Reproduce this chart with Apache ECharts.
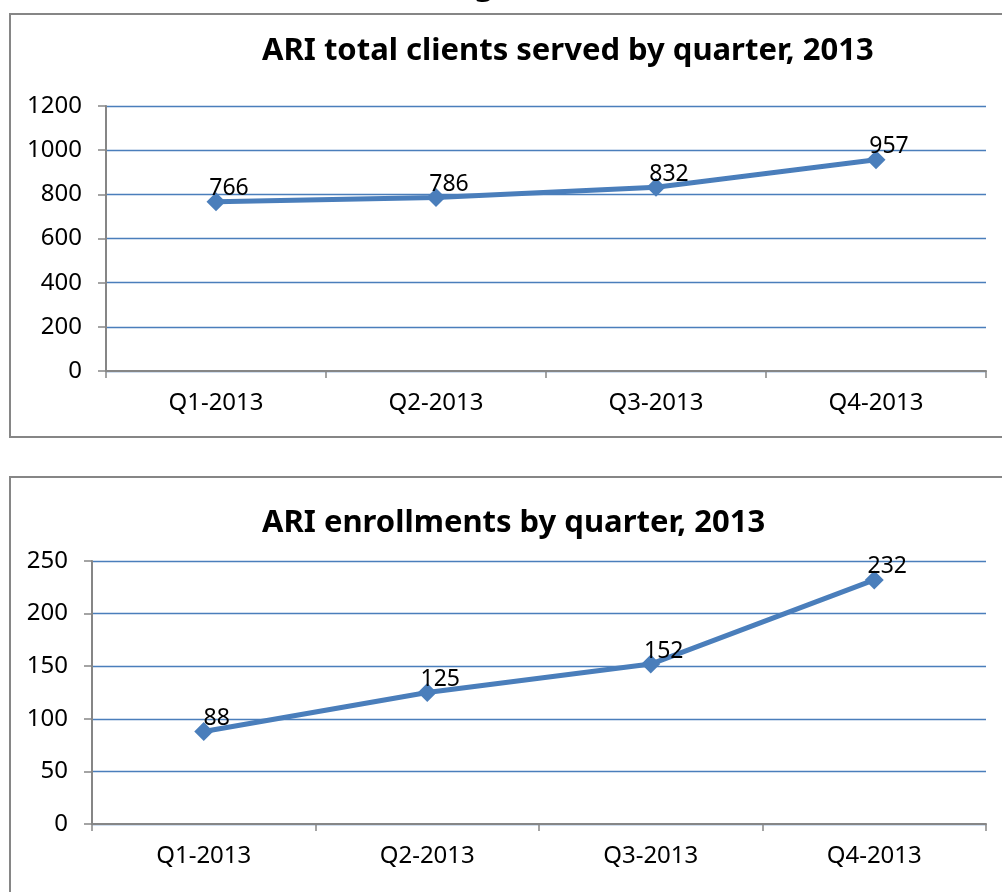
<!DOCTYPE html>
<html>
<head>
<meta charset="utf-8">
<script src="https://cdn.jsdelivr.net/npm/echarts@6/dist/echarts.min.js"></script>
<style>
html,body{margin:0;padding:0;background:#fff;}
#c{width:1002px;height:892px;}
</style>
</head>
<body>
<div id="c"></div>
<script>
const categories = ['Q1-2013', 'Q2-2013', 'Q3-2013', 'Q4-2013'];
const clientsServed = [766, 786, 832, 957];
const enrollments = [88, 125, 152, 232];
const clientsTicks = { min: 0, max: 1200, interval: 200 };
const enrollTicks = { min: 0, max: 250, interval: 50 };
const titleTop = 'ARI total clients served by quarter, 2013';
const titleBottom = 'ARI enrollments by quarter, 2013';

const FONT = '"Noto Sans", "Open Sans", sans-serif';
const BLUE = '#4A7EBB';
const GRAY = '#868686';

const chart = echarts.init(document.getElementById('c'), null, { renderer: 'canvas' });

function xAxisCfg(gridIndex) {
  return {
    type: 'category', gridIndex, data: categories, boundaryGap: true,
    axisLine: { lineStyle: { color: GRAY, width: 2 } },
    axisTick: { show: true, length: 7, lineStyle: { color: GRAY, width: 1.5 } },
    axisLabel: { color: '#000', fontFamily: FONT, fontSize: 24, margin: 20 },
    splitLine: { show: false }
  };
}
function yAxisCfg(gridIndex, t, margin) {
  return {
    type: 'value', gridIndex, min: t.min, max: t.max, interval: t.interval,
    axisLine: { show: true, lineStyle: { color: GRAY, width: 2 } },
    axisTick: { show: true, length: 8, lineStyle: { color: GRAY, width: 1.5 } },
    axisLabel: { color: '#000', fontFamily: FONT, fontSize: 24, margin: margin,
                 formatter: function (v) { return String(v); } },
    splitLine: { show: true, lineStyle: { color: BLUE, width: 1.4 } }
  };
}
function seriesCfg(idx, data) {
  return {
    type: 'line', xAxisIndex: idx, yAxisIndex: idx, data: data,
    symbol: 'diamond', symbolSize: 19,
    lineStyle: { color: BLUE, width: 5 },
    itemStyle: { color: BLUE },
    label: {
      show: true, position: 'top', distance: 0, offset: [13, 8],
      color: '#000', fontFamily: FONT, fontSize: 23
    },
    animation: false,
    z: 5
  };
}

chart.setOption({
  animation: false,
  backgroundColor: '#fff',
  title: [
    { text: titleTop, left: 257, top: 31,
      textStyle: { fontFamily: FONT, fontWeight: 'bold', fontSize: 31, color: '#000' } },
    { text: titleBottom, left: 257, top: 503,
      textStyle: { fontFamily: FONT, fontWeight: 'bold', fontSize: 31, color: '#000' } }
  ],
  graphic: [
    { type: 'text', left: 448, top: -29, z: 0,
      style: { text: 'Figure 3', fontFamily: FONT, fontWeight: 'bold', fontSize: 31, fill: '#000' } },
    { type: 'rect', shape: { x: 10, y: 14, width: 1010, height: 423 },
      style: { fill: '#fff', stroke: GRAY, lineWidth: 2 }, z: -1 },
    { type: 'rect', shape: { x: 10, y: 477, width: 1010, height: 440 },
      style: { fill: '#fff', stroke: GRAY, lineWidth: 2 }, z: -1 }
  ],
  grid: [
    { left: 106, right: 16, top: 106, height: 265, containLabel: false },
    { left: 92, right: 16, top: 561, height: 263, containLabel: false }
  ],
  xAxis: [xAxisCfg(0), xAxisCfg(1)],
  yAxis: [yAxisCfg(0, clientsTicks, 24), yAxisCfg(1, enrollTicks, 24)],
  series: [seriesCfg(0, clientsServed), seriesCfg(1, enrollments)]
});
</script>
</body>
</html>
